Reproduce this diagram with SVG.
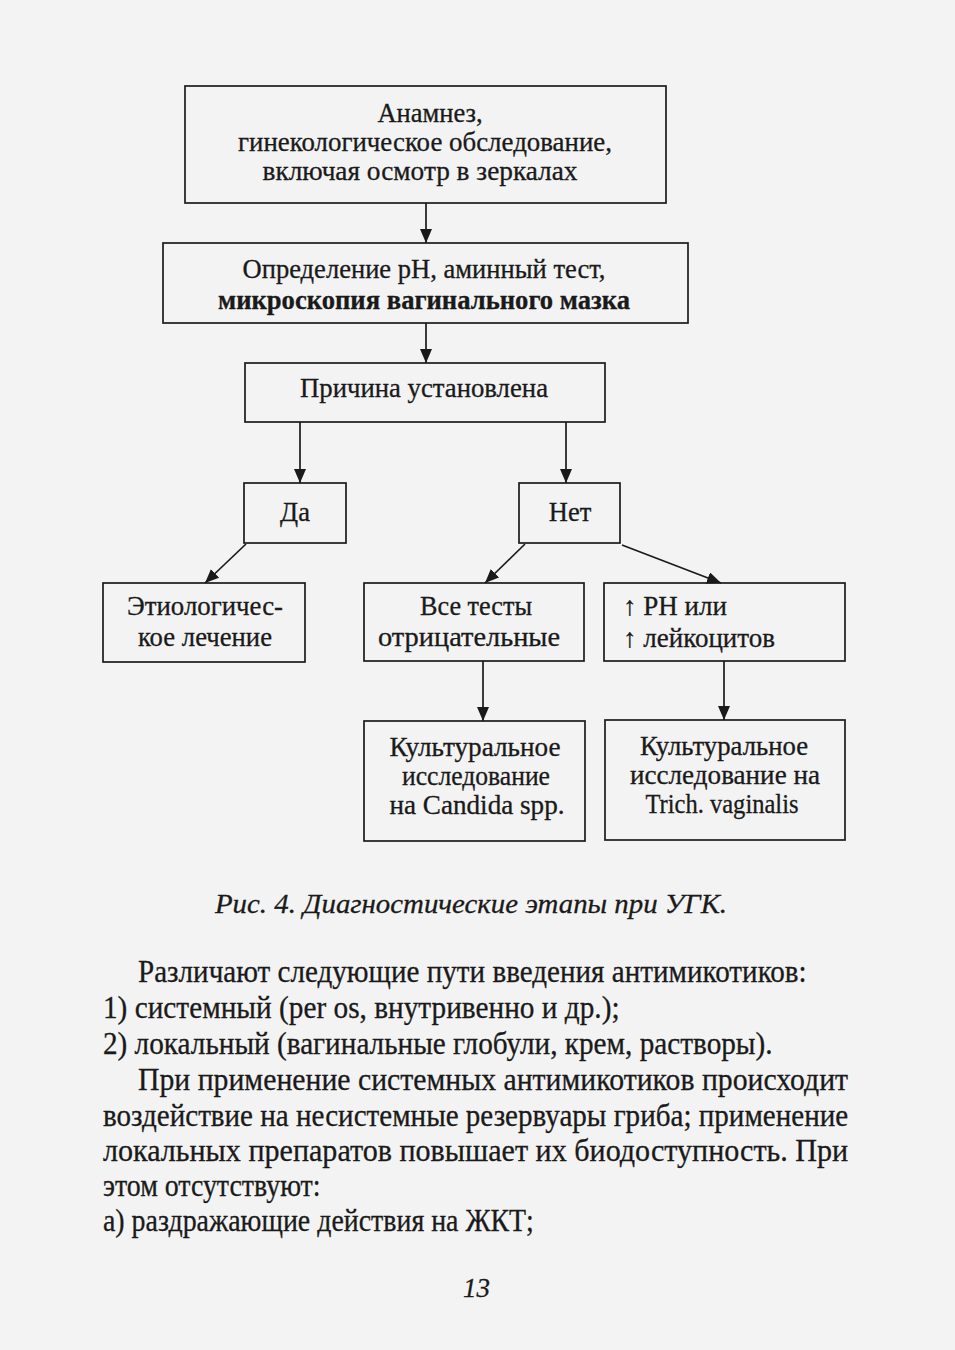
<svg xmlns="http://www.w3.org/2000/svg" width="955" height="1350" viewBox="0 0 955 1350">
<defs>
<style>
.bx{fill:none;stroke:#1a1a1a;stroke-width:1.7}
.cn{fill:none;stroke:#1a1a1a;stroke-width:1.7}
.t{font-family:"Liberation Serif","Times New Roman",serif;font-size:26.5px;fill:#1a1a1a;stroke:#1a1a1a;stroke-width:0.3}
.c{text-anchor:middle}
.b{font-weight:bold}
.body{font-family:"Liberation Serif","Times New Roman",serif;font-size:31px;fill:#1a1a1a;stroke:#1a1a1a;stroke-width:0.3}
.cap{font-family:"Liberation Serif","Times New Roman",serif;font-size:27px;font-style:italic;fill:#1a1a1a;stroke:#1a1a1a;stroke-width:0.3}
</style>
<marker id="ah" viewBox="0 0 14 12" refX="14" refY="6" markerWidth="14" markerHeight="12" markerUnits="userSpaceOnUse" orient="auto">
<path d="M0,0 L14,6 L0,12 z" fill="#1a1a1a"/>
</marker>
</defs>
<rect x="0" y="0" width="955" height="1350" fill="#f3f3f3"/>

<g id="connectors">
<line class="cn" x1="426" y1="203" x2="426" y2="243" marker-end="url(#ah)"/>
<line class="cn" x1="426" y1="323" x2="426" y2="363" marker-end="url(#ah)"/>
<line class="cn" x1="300" y1="422" x2="300" y2="483" marker-end="url(#ah)"/>
<line class="cn" x1="566" y1="422" x2="566" y2="483" marker-end="url(#ah)"/>
<line class="cn" x1="246" y1="544" x2="205" y2="583" marker-end="url(#ah)"/>
<line class="cn" x1="525" y1="544" x2="485" y2="583" marker-end="url(#ah)"/>
<line class="cn" x1="622" y1="545" x2="721" y2="583" marker-end="url(#ah)"/>
<line class="cn" x1="483" y1="661" x2="483" y2="721" marker-end="url(#ah)"/>
<line class="cn" x1="724" y1="661" x2="724" y2="720" marker-end="url(#ah)"/>
</g>

<g id="n-anamnez">
<rect class="bx" x="185" y="86" width="481" height="117"/>
<text class="t c" x="430" y="122">Анамнез,</text>
<text class="t c" x="425" y="151" textLength="374" lengthAdjust="spacingAndGlyphs">гинекологическое обследование,</text>
<text class="t c" x="420" y="180" textLength="315" lengthAdjust="spacingAndGlyphs">включая осмотр в зеркалах</text>
</g>

<g id="n-ph">
<rect class="bx" x="163" y="243" width="525" height="80"/>
<text class="t c" x="424" y="278" font-size="25.5" textLength="363" lengthAdjust="spacingAndGlyphs">Определение pH, аминный тест,</text>
<text class="t c b" x="424" y="309" font-size="25.5" textLength="412" lengthAdjust="spacingAndGlyphs">микроскопия вагинального мазка</text>
</g>

<g id="n-cause">
<rect class="bx" x="245" y="363" width="360" height="59"/>
<text class="t c" x="424" y="397" textLength="248" lengthAdjust="spacingAndGlyphs">Причина установлена</text>
</g>

<g id="n-yes">
<rect class="bx" x="244" y="483" width="102" height="60"/>
<text class="t c" x="295" y="521">Да</text>
</g>

<g id="n-no">
<rect class="bx" x="519" y="483" width="101" height="60"/>
<text class="t c" x="570" y="521">Нет</text>
</g>

<g id="n-etio">
<rect class="bx" x="103" y="583" width="202" height="79"/>
<text class="t c" x="205" y="615" textLength="156" lengthAdjust="spacingAndGlyphs">Этиологичес-</text>
<text class="t c" x="205" y="646" textLength="134" lengthAdjust="spacingAndGlyphs">кое лечение</text>
</g>

<g id="n-neg">
<rect class="bx" x="364" y="583" width="220" height="78"/>
<text class="t c" x="476" y="615" textLength="112" lengthAdjust="spacingAndGlyphs">Все тесты</text>
<text class="t c" x="469" y="646" textLength="182" lengthAdjust="spacingAndGlyphs">отрицательные</text>
</g>

<g id="n-ph-up">
<rect class="bx" x="604" y="583" width="241" height="78"/>
<text class="t" x="623" y="615" textLength="104" lengthAdjust="spacingAndGlyphs">↑ РН или</text>
<text class="t" x="623" y="647" textLength="152" lengthAdjust="spacingAndGlyphs">↑ лейкоцитов</text>
</g>

<g id="n-culture-candida">
<rect class="bx" x="364" y="721" width="221" height="120"/>
<text class="t c" x="475" y="756" textLength="171" lengthAdjust="spacingAndGlyphs">Культуральное</text>
<text class="t c" x="476" y="785" textLength="148" lengthAdjust="spacingAndGlyphs">исследование</text>
<text class="t c" x="477" y="814" textLength="175" lengthAdjust="spacingAndGlyphs">на Candida spp.</text>
</g>

<g id="n-culture-trich">
<rect class="bx" x="605" y="720" width="240" height="120"/>
<text class="t c" x="724" y="755" textLength="168" lengthAdjust="spacingAndGlyphs">Культуральное</text>
<text class="t c" x="725" y="784" textLength="190" lengthAdjust="spacingAndGlyphs">исследование на</text>
<text class="t c" x="722" y="813" textLength="153" lengthAdjust="spacingAndGlyphs">Trich. vaginalis</text>
</g>

<text class="cap" x="215" y="913" textLength="512" lengthAdjust="spacingAndGlyphs">Рис. 4. Диагностические этапы при УГК.</text>

<g id="body" transform="scale(0.9,1)">
<text class="body" x="153.3" y="982" textLength="743" lengthAdjust="spacingAndGlyphs">Различают следующие пути введения антимикотиков:</text>
<text class="body" x="114.4" y="1018" textLength="574" lengthAdjust="spacingAndGlyphs">1) системный (per os, внутривенно и др.);</text>
<text class="body" x="114.4" y="1054" textLength="744" lengthAdjust="spacingAndGlyphs">2) локальный (вагинальные глобули, крем, растворы).</text>
<text class="body" x="153.3" y="1090" textLength="789" lengthAdjust="spacingAndGlyphs">При применение системных антимикотиков происходит</text>
<text class="body" x="114.4" y="1126" textLength="828" lengthAdjust="spacingAndGlyphs">воздействие на несистемные резервуары гриба; применение</text>
<text class="body" x="114.4" y="1161" textLength="828" lengthAdjust="spacingAndGlyphs">локальных препаратов повышает их биодоступность. При</text>
<text class="body" x="114.4" y="1196">этом отсутствуют:</text>
<text class="body" x="114.4" y="1231">а) раздражающие действия на ЖКТ;</text>
</g>

<text class="cap" x="463" y="1297" font-size="28">13</text>
</svg>
